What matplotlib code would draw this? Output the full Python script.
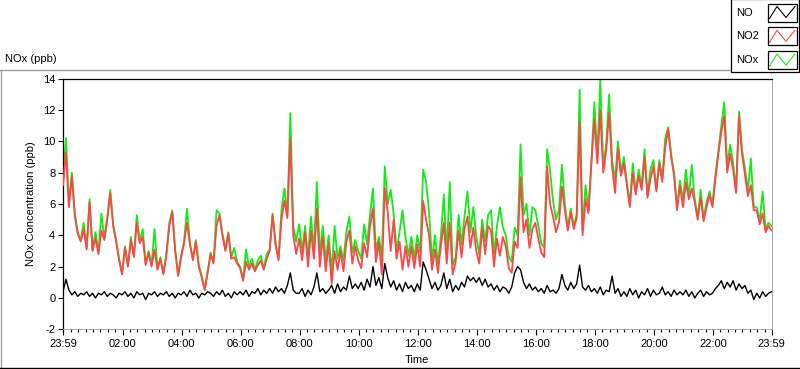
import numpy as np
import matplotlib
matplotlib.use("Agg")
import matplotlib.pyplot as plt
from matplotlib.patches import Rectangle

plt.rcParams['font.family'] = ['Liberation Sans', 'DejaVu Sans']

# ---- data: 6-minute samples from 23:59 to 23:59 (241 points) ----
no2 = [
    7.2, 9.3, 5.8, 7.8, 5.2, 4.1, 3.6, 4.4, 3.1, 6.1,
    3.0, 3.8, 2.8, 4.3, 3.7, 5.0, 6.7, 4.6, 3.6, 2.4,
    1.5, 3.2, 2.0, 3.7, 2.6, 4.8, 3.5, 3.9, 2.1, 2.9,
    2.0, 3.1, 1.8, 2.5, 1.5, 2.7, 4.6, 5.5, 3.0, 1.4,
    2.6, 3.5, 4.8, 3.4, 2.4, 3.6, 2.0, 1.3, 0.5, 1.6,
    2.8, 2.2, 4.6, 5.3, 4.0, 3.0, 4.1, 2.5, 2.6, 2.2,
    1.9, 1.1, 2.3, 1.8, 2.2, 1.7, 2.1, 2.4, 1.8, 2.5,
    3.0, 5.3, 3.4, 2.4, 5.0, 6.2, 5.1, 10.2, 4.0, 2.8,
    3.8, 2.4, 4.2, 2.0, 4.3, 2.5, 5.7, 2.0, 3.9, 1.7,
    3.5, 0.9, 3.0, 1.8, 3.0, 1.7, 3.6, 4.3, 2.2, 3.3,
    2.4, 1.9, 3.5, 2.6, 4.6, 5.7, 2.3, 3.6, 1.5, 7.0,
    5.5, 3.0, 5.0, 2.5, 3.6, 1.8, 3.3, 2.0, 3.3, 1.9,
    3.4, 2.0, 6.2, 5.0, 4.0, 1.8, 3.1, 1.6, 3.3, 4.8,
    2.2, 4.8, 1.5, 2.3, 4.3, 2.6, 4.4, 5.2, 3.2, 4.5,
    3.0, 2.2, 4.5, 2.8, 4.6, 4.3, 2.0, 3.8, 2.7, 3.9,
    3.3, 1.9, 1.6, 3.6, 3.2, 7.7, 4.2, 5.0, 3.2, 4.4,
    4.8, 3.8, 2.9, 2.6, 8.4, 6.0, 5.2, 4.2, 4.8, 7.1,
    5.6, 4.3, 5.5, 4.4, 5.1, 11.2, 4.0, 6.3, 5.4, 8.6,
    11.4, 8.6, 12.0, 8.0, 9.4, 11.8, 8.4, 6.7, 9.6, 7.8,
    8.6, 7.2, 5.8, 8.0, 6.6, 7.8, 6.9, 9.0, 6.4, 7.6,
    8.4, 6.8, 8.6, 7.4, 9.6, 10.8, 9.0, 7.8, 5.6, 7.2,
    5.8, 7.4, 6.3, 7.0, 6.1, 5.0, 6.4, 4.9, 5.8, 6.6,
    5.8, 7.6, 9.2, 10.6, 11.6, 8.0, 9.2, 8.2, 6.7, 11.6,
    9.2, 7.9, 6.5, 7.2, 5.6, 5.6, 4.7, 5.4, 4.2, 4.6,
    4.3,
]

nox = [
    7.4, 10.2, 6.0, 8.0, 5.4, 4.2, 3.7, 4.8, 3.2, 6.3,
    3.1, 4.2, 2.9, 5.4, 3.8, 5.2, 6.9, 4.7, 3.7, 2.5,
    1.6, 3.3, 2.1, 3.9, 2.7, 5.3, 3.6, 4.4, 2.2, 3.0,
    2.1, 4.4, 1.9, 2.6, 1.6, 2.8, 4.8, 5.6, 3.1, 1.5,
    2.7, 3.6, 5.7, 3.5, 2.5, 3.7, 2.1, 1.4, 0.6, 1.7,
    2.9, 2.3, 5.6, 5.4, 4.1, 3.1, 4.2, 2.6, 3.2, 2.3,
    2.0, 1.2, 3.1, 2.0, 2.5, 1.8, 2.4, 2.7, 1.9, 2.8,
    3.1, 5.4, 3.5, 2.5, 5.6, 7.0, 5.3, 11.8, 4.6, 3.6,
    4.7, 3.0, 4.6, 2.6, 5.2, 3.0, 7.4, 2.8, 4.6, 2.4,
    4.0, 1.6, 4.6, 2.5, 3.3, 2.4, 4.2, 5.2, 2.9, 3.7,
    3.0, 2.5, 4.7, 3.4, 5.3, 7.0, 3.0, 3.9, 2.6, 8.4,
    6.0, 6.9, 5.4, 3.0, 4.2, 5.6, 3.9, 2.7, 3.9, 2.5,
    4.0, 2.9, 8.2, 7.4, 5.5, 2.4, 4.0, 2.2, 3.9, 6.6,
    2.8, 7.4, 2.1, 2.6, 5.3, 3.4, 5.2, 6.8, 4.2, 5.8,
    3.9, 2.8, 5.0, 3.6, 5.3, 5.6, 2.8, 4.6, 5.8, 4.5,
    4.0, 2.6, 2.3, 4.5, 4.0, 9.8, 5.3, 6.0, 4.0, 5.8,
    5.6, 4.6, 3.5, 3.2, 9.5, 8.1, 6.2, 5.0, 5.6, 8.5,
    6.0, 4.5, 5.7, 4.6, 5.3, 13.3, 4.3, 7.2, 5.6, 8.8,
    12.5, 9.0, 13.9, 8.4, 9.8, 13.0, 8.8, 7.5, 10.0, 8.0,
    9.0, 7.4, 6.0, 8.6, 6.8, 8.2, 7.1, 9.5, 6.6, 8.2,
    8.8, 7.0, 8.8, 7.6, 10.2, 10.9, 9.2, 8.0, 5.8, 7.5,
    6.2, 8.2, 6.5, 8.5, 6.3, 5.2, 6.9, 5.1, 6.1, 6.8,
    6.0, 7.9, 9.4, 11.0, 12.5, 8.4, 9.8, 8.6, 6.9, 11.9,
    9.5, 8.3, 6.8, 8.9, 5.8, 5.8, 4.9, 6.8, 4.4, 4.8,
    4.6,
]

no = [
    0.4, 1.2, 0.5, 0.2, 0.4, 0.1, 0.3, 0.2, 0.4, 0.1,
    0.3, 0.0, 0.3, 0.2, 0.4, 0.1, 0.3, 0.2, 0.0, 0.3,
    0.2, 0.4, 0.1, 0.3, 0.0, 0.4, 0.2, 0.3, -0.1, 0.3,
    0.2, 0.4, 0.1, 0.3, 0.2, 0.4, 0.1, 0.3, 0.0, 0.3,
    0.2, 0.4, 0.1, 0.5, 0.2, 0.3, 0.0, 0.3, 0.2, 0.4,
    0.3, 0.1, 0.4, 0.2, 0.5, 0.1, 0.3, 0.0, 0.4, 0.2,
    0.4, 0.2, 0.5, 0.1, 0.4, 0.3, 0.6, 0.2, 0.5, 0.3,
    0.6, 0.3, 0.7, 0.4, 0.6, 0.3, 0.8, 1.6, 0.5, 0.3,
    0.3, 0.6, 0.1, 0.5, 0.2, 0.7, 1.6, 0.4, 0.6, 0.3,
    0.5, 0.8, 0.3, 0.9, 0.4, 0.7, 0.5, 1.4, 0.6, 0.9,
    0.6, 1.0, 0.5, 1.2, 0.7, 2.0, 0.8, 1.3, 0.6, 2.2,
    1.3, 0.7, 1.1, 0.5, 0.9, 0.4, 1.0, 0.6, 0.8, 0.4,
    0.9, 0.5, 2.3, 1.8, 1.2, 0.6, 1.0, 0.5, 0.8, 1.6,
    0.6, 1.2, 0.4, 0.8, 0.5, 1.0, 0.7, 1.4, 1.1, 1.3,
    1.0, 1.3, 0.8, 1.2, 0.7, 0.9, 0.5, 0.8, 0.4, 0.7,
    0.6, 0.3, 0.7, 1.6, 2.0, 1.8, 1.0, 0.6, 0.9, 0.5,
    0.7, 0.4, 0.6, 0.3, 0.8, 0.4, 0.5, 0.3, 0.6, 1.5,
    0.8, 0.5, 1.0, 0.6, 0.9, 2.1, 0.7, 0.5, 0.8, 0.4,
    0.6, 0.3, 0.7, 0.2, 0.5, 0.4, 1.4, 0.3, 0.6, 0.1,
    0.4, 0.1, 0.6, 0.2, 0.5, 0.0, 0.4, 0.2, 0.6, 0.1,
    0.5, 0.2, 0.3, 0.7, 0.2, 0.4, 0.1, 0.5, 0.2, 0.4,
    0.2, 0.5, 0.1, 0.4, 0.0, 0.3, 0.5, 0.1, 0.4, 0.2,
    0.3, 0.6, 0.8, 1.1, 0.6, 1.0, 0.7, 1.1, 0.5, 0.9,
    0.6, 0.8, 0.3, 0.5, -0.1, 0.3, 0.0, 0.4, 0.1, 0.3,
    0.4,
]

tick_minutes = [0, 121, 241, 361, 481, 601, 721, 841, 961, 1081, 1201, 1321, 1440]
tick_labels = ["23:59", "02:00", "04:00", "06:00", "08:00", "10:00", "12:00",
               "14:00", "16:00", "18:00", "20:00", "22:00", "23:59"]
y_ticks = [-2, 0, 2, 4, 6, 8, 10, 12, 14]
series_names = ["NO", "NO2", "NOx"]
series_colors = ["#000000", "#FF4545", "#17E817"]

t = np.linspace(0, 1440, len(no2))

W, H = 800, 369
fig = plt.figure(figsize=(W / 100, H / 100), dpi=100)

# overlay for panel decorations (pixel coordinates)
ov = fig.add_axes([0, 0, 1, 1])
ov.set_xlim(0, W)
ov.set_ylim(H, 0)
ov.axis("off")
ov.plot([0, 730], [69.5, 69.5], color="#a0a0a0", lw=1.0)
ov.plot([0.5, 0.5], [69.5, H], color="#a0a0a0", lw=1.0)
ov.plot([0, W], [367.8, 367.8], color="#000000", lw=1.0)
ov.text(5, 59, "NOx (ppb)", fontsize=8, va="center", ha="left", color="#000000")

# legend box
ov.add_patch(Rectangle((730.5, -1), 68, 73, facecolor="white", edgecolor="black", lw=0.9))
for i, (name, col) in enumerate(zip(series_names, series_colors)):
    yc = 12.5 + i * 23.8
    ov.text(736, yc, name, fontsize=8, va="center", ha="left", color="#000000")
    ov.add_patch(Rectangle((767.5, yc - 9), 29, 18, facecolor="white", edgecolor="black", lw=0.9))
    ov.plot([769.5, 777, 786, 795], [yc + 6, yc - 6, yc + 5, yc - 6], color=col, lw=0.8)

# main axes
x0, x1 = 63, 771.5
ytop, ybot = 78.7, 329.3
ax = fig.add_axes([x0 / W, 1 - ybot / H, (x1 - x0) / W, (ybot - ytop) / H])
ax.set_xlim(0, 1440)
ax.set_ylim(-2, 14)

ax.plot(t, nox, color=series_colors[2], lw=1.3, zorder=2)
ax.plot(t, no2, color=series_colors[1], lw=1.3, zorder=3)
ax.plot(t, no, color=series_colors[0], lw=1.0, zorder=4)

for side in ["left", "top"]:
    ax.spines[side].set_color("black")
    ax.spines[side].set_linewidth(0.9)
for side in ["right", "bottom"]:
    ax.spines[side].set_color("#a8a8a8")
    ax.spines[side].set_linewidth(0.7)

ax.set_yticks(y_ticks)
ax.set_yticklabels([str(v) for v in y_ticks])
ax.set_xticks(tick_minutes)
ax.set_xticklabels(tick_labels)
minor = [m for m in range(121 - 15 * 8, 1441, 15) if m not in tick_minutes and m > 0]
ax.set_xticks(minor, minor=True)
ax.tick_params(axis="y", direction="out", length=3.5, width=0.8, pad=2, labelsize=8, colors="black")
ax.tick_params(axis="x", which="major", direction="out", length=4.5, width=0.8, pad=2.5, labelsize=8)
ax.tick_params(axis="x", which="minor", direction="out", length=2.5, width=0.8)

ax.set_ylabel("NOx Concentration (ppb)", fontsize=8, labelpad=5)
ax.set_xlabel("Time", fontsize=8, labelpad=4)

fig.savefig("out.png", dpi=100, facecolor="white")
